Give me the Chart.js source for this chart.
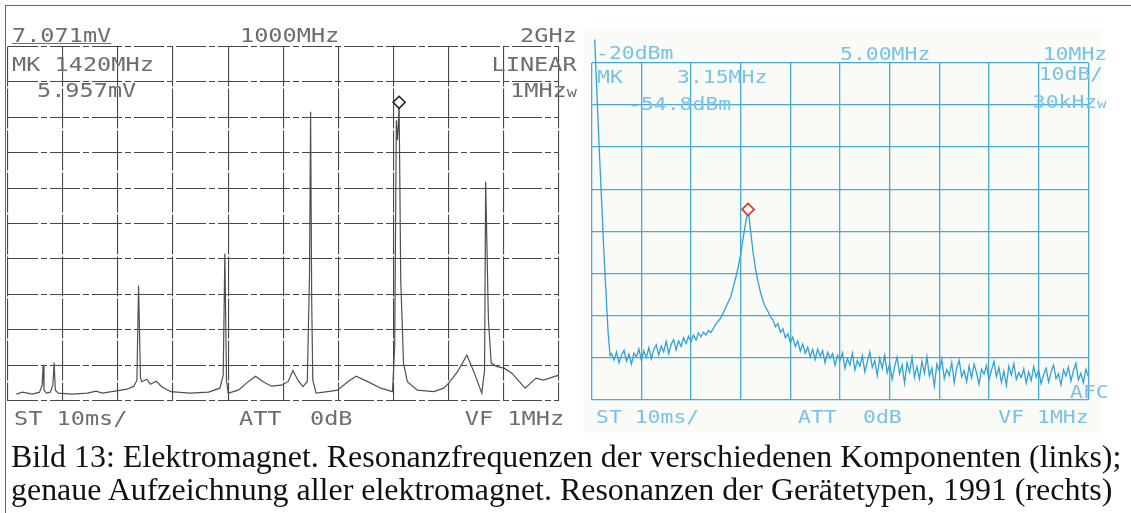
<!DOCTYPE html>
<html><head><meta charset="utf-8">
<script src="https://cdn.jsdelivr.net/npm/chart.js@4.4.0/dist/chart.umd.min.js"></script>
<style>
html,body{margin:0;padding:0;background:#fff;}
#page{position:relative;width:1131px;height:513px;overflow:hidden;background:#fff;}
canvas{position:absolute;}
.t{position:absolute;white-space:pre;font-family:'DejaVu Sans Mono',monospace;line-height:1;}
.cap{position:absolute;left:11px;white-space:pre;font-family:'Liberation Serif','Times New Roman',serif;line-height:1;color:#111;}
</style></head><body><div id="page">
<div style="position:absolute;left:583px;top:28px;width:518px;height:405px;background:#fafaf7"></div>
<canvas id="cL" width="600" height="440" style="left:0;top:0;width:600px;height:440px"></canvas>
<canvas id="cR" width="571" height="440" style="left:560px;top:0;width:571px;height:440px"></canvas>
<div style="position:absolute;left:5px;top:5px;width:1126px;height:0;border-top:1.5px solid #666"></div>
<div style="position:absolute;left:5px;top:5px;width:0;height:508px;border-left:1.5px solid #666"></div>
<div id="cap1" class="cap"></div>
<div id="cap2" class="cap"></div>
</div>
<script>
// ---------- DATA ----------
// Left analyser: frequency in MHz, level in mV (linear), span 0..2000 MHz, ref 7.071 mV
const leftXRange = [0, 2000];
const leftYRange = [0, 7.071];
const leftTrace = [
 [32,0.13],[54,0.17],[90,0.13],[116,0.17],[125,0.31],[129,0.71],[132,0.21],[141,0.15],[155,0.17],[164,0.31],
 [169,0.76],[173,0.21],[184,0.15],[235,0.13],[289,0.15],[321,0.19],[343,0.15],[390,0.19],[433,0.23],[458,0.29],
 [469,0.41],[475,2.30],[482,0.45],[487,0.38],[505,0.43],[518,0.33],[539,0.39],[559,0.28],[592,0.18],[661,0.15],
 [729,0.17],[770,0.25],[782,0.51],[788,2.94],[794,0.41],[800,0.15],[837,0.21],[873,0.38],[899,0.49],[927,0.38],
 [957,0.29],[993,0.31],[1017,0.38],[1035,0.60],[1053,0.41],[1071,0.28],[1087,0.38],[1095,2.5],[1099,5.77],[1103,2.0],
 [1107,0.41],[1119,0.15],[1161,0.18],[1197,0.21],[1234,0.38],[1264,0.49],[1306,0.38],[1354,0.25],[1396,0.18],[1404,1.08],
 [1410,5.6],[1414,5.2],[1417,5.5],[1420,5.957],[1426,2.41],[1436,0.75],[1450,0.38],[1486,0.21],[1546,0.18],[1582,0.25],
 [1600,0.35],[1632,0.58],[1666,0.91],[1693,0.55],[1720,0.15],[1730,0.61],[1734,4.37],[1744,1.61],[1754,0.75],[1775,0.68],
 [1801,0.65],[1829,0.55],[1877,0.25],[1917,0.45],[1944,0.41],[1999,0.51]
];
const leftMarker = [[1420, 5.957]];

// Right analyser: frequency in MHz, level in dBm, span 0..10 MHz, ref -20 dBm, 10 dB/div
const rightXRange = [0, 10];
const rightYRange = [-100, -20];
const rightTrace = [
 [0.06,-14.5],[0.15,-40],[0.25,-66],[0.33,-84],[0.37,-89.5],
 [0.40,-89.0],[0.45,-90.5],[0.50,-88.6],[0.55,-91.2],[0.60,-89.4],[0.65,-88.2],[0.70,-90.8],[0.75,-89.1],[0.80,-91.5],[0.85,-88.9],
 [0.90,-89.8],[0.95,-87.9],[1.00,-90.6],[1.05,-88.4],[1.10,-89.9],[1.15,-87.6],[1.20,-90.2],[1.25,-88.0],[1.30,-86.9],[1.35,-89.3],
 [1.40,-87.2],[1.45,-88.6],[1.50,-86.1],[1.55,-89.0],[1.60,-86.8],[1.65,-85.7],[1.70,-88.1],[1.75,-86.0],[1.80,-87.3],[1.85,-85.2],
 [1.90,-86.6],[1.95,-84.9],[2.00,-86.2],[2.05,-84.6],[2.10,-85.8],[2.15,-84.1],[2.20,-85.0],[2.25,-83.9],[2.30,-84.6],[2.35,-83.5],
 [2.40,-84.0],[2.50,-82.0],[2.60,-80.5],[2.70,-78.0],[2.80,-75.5],[2.90,-71.0],[2.95,-68.5],[3.00,-65.5],[3.05,-61.5],[3.10,-58.0],
 [3.15,-54.8],[3.20,-60.0],[3.25,-65.0],[3.30,-69.0],[3.35,-72.0],[3.40,-74.5],[3.45,-76.5],[3.50,-78.0],[3.55,-79.0],[3.60,-80.3],
 [3.65,-81.0],[3.70,-82.6],[3.75,-81.9],[3.80,-84.0],[3.85,-83.1],[3.90,-85.2],[3.95,-84.3],[4.00,-86.4],[4.05,-85.1],[4.10,-87.3],
 [4.15,-86.0],[4.20,-88.4],[4.25,-86.7],[4.30,-88.9],[4.35,-87.5],[4.40,-89.8],[4.45,-88.0],[4.50,-90.4],[4.55,-87.9],[4.60,-89.6],
 [4.65,-88.3],[4.70,-91.2],[4.75,-88.7],[4.80,-90.1],[4.85,-89.0],[4.90,-91.8],[4.95,-89.4],[5.00,-90.6],[5.05,-88.8],[5.10,-92.5],
 [5.15,-90.2],[5.20,-91.7],[5.25,-88.9],[5.30,-92.9],[5.35,-90.6],[5.40,-92.0],[5.45,-89.5],[5.50,-93.4],[5.55,-90.9],[5.60,-88.6],
 [5.65,-92.3],[5.70,-90.7],[5.75,-94.2],[5.80,-90.1],[5.85,-92.5],[5.90,-89.4],[5.95,-93.5],[6.00,-91.5],[6.05,-95.1],[6.10,-92.0],
 [6.15,-89.8],[6.20,-93.8],[6.25,-91.7],[6.30,-96.0],[6.35,-91.2],[6.40,-93.4],[6.45,-89.9],[6.50,-94.6],[6.55,-92.1],[6.60,-95.0],
 [6.65,-90.8],[6.70,-93.6],[6.75,-89.7],[6.80,-94.3],[6.85,-92.4],[6.90,-96.7],[6.95,-91.5],[7.00,-93.1],[7.05,-90.3],[7.10,-94.9],
 [7.15,-92.8],[7.20,-94.2],[7.25,-91.1],[7.30,-95.9],[7.35,-92.4],[7.40,-90.6],[7.45,-94.5],[7.50,-93.0],[7.55,-95.6],[7.60,-91.9],
 [7.65,-94.8],[7.70,-91.5],[7.75,-93.6],[7.80,-96.3],[7.85,-92.7],[7.90,-93.9],[7.95,-91.8],[8.00,-95.2],[8.05,-92.9],[8.10,-90.8],
 [8.15,-94.4],[8.20,-92.3],[8.25,-95.8],[8.30,-93.2],[8.35,-96.5],[8.40,-92.0],[8.45,-94.1],[8.50,-91.4],[8.55,-95.1],[8.60,-93.5],
 [8.65,-94.7],[8.70,-92.6],[8.75,-96.0],[8.80,-93.3],[8.85,-95.4],[8.90,-92.1],[8.95,-94.6],[9.00,-92.9],[9.05,-96.1],[9.10,-94.0],
 [9.15,-92.5],[9.20,-95.7],[9.25,-93.4],[9.30,-91.7],[9.35,-94.9],[9.40,-93.8],[9.45,-96.4],[9.50,-92.8],[9.55,-94.3],[9.60,-92.2],
 [9.65,-95.5],[9.70,-93.1],[9.75,-91.3],[9.80,-95.2],[9.85,-93.7],[9.90,-95.9],[9.95,-92.7],[10.00,-94.4]
];
const rightMarker = [[3.15, -54.8]];

// Screen annotations of each analyser (text, x, baseline, align)
const leftLabels = [
 ['7.071mV',12,42,'l'],['1000MHz',240,42,'l'],['2GHz',577,42,'r'],
 ['MK 1420MHz',12,71.5,'l'],['LINEAR',577,71.5,'r'],
 ['5.957mV',37,97,'l'],['1MHz|w',577,97,'r'],
 ['ST 10ms/',14,425,'l'],['ATT',239,425,'l'],['0dB',310,425,'l'],['VF 1MHz',564,425,'r']
];
const rightLabels = [
 ['-20dBm',596,59,'l'],['5.00MHz',840,60,'l'],['10MHz',1107,60,'r'],
 ['MK',597,83,'l'],['3.15MHz',677,83,'l'],['10dB/',1103,80,'r'],
 ['-54.8dBm',628,110,'l'],['30kHz|w',1107,108,'r'],
 ['ST 10ms/',596,423.5,'l'],['ATT',798,423.5,'l'],['0dB',863,423.5,'l'],['VF 1MHz',1089,423.5,'r'],['AFC',1070,398,'l']
];
const captionLines = [
 'Bild 13: Elektromagnet. Resonanzfrequenzen der verschiedenen Komponenten (links);',
 'genaue Aufzeichnung aller elektromagnet. Resonanzen der Gerätetypen, 1991 (rechts)'
];

// ---------- RENDER ----------
const page = document.getElementById('page');
function addLabels(list, fs, sx, color){
  list.forEach(([txt,x,base,al])=>{
    const d = document.createElement('div');
    d.className='t';
    d.style.fontSize = fs+'px';
    d.style.color = color;
    d.style.top = (base - 0.846*fs)+'px';
    if(txt.includes('|')){
      const [a,b] = txt.split('|');
      d.appendChild(document.createTextNode(a));
      const s=document.createElement('span'); s.style.fontSize='0.72em'; s.textContent=b; d.appendChild(s);
    } else d.textContent = txt;
    if(al==='l'){ d.style.left=x+'px'; d.style.transformOrigin='0 0'; }
    else { d.style.right=(1131-x)+'px'; d.style.transformOrigin='100% 0'; }
    d.style.transform='scaleX('+sx+')';
    if(txt==='7.071mV') d.style.textDecoration='underline';
    page.appendChild(d);
  });
}
addLabels(leftLabels, 19, 1.24, '#6e6e6e');
addLabels(rightLabels, 17, 1.26, '#78c2e8');

(function(){
  const c=document.createElement('canvas').getContext('2d');
  c.font='100px "Liberation Serif"';
  const w=c.measureText(captionLines[0]).width;
  const fs=100*1111/w;
  const bases=[468,501];
  ['cap1','cap2'].forEach((id,i)=>{
    const d=document.getElementById(id);
    d.textContent=captionLines[i];
    d.style.fontSize=fs+'px';
    d.style.top=(bases[i]-0.8375*fs)+'px';
  });
})();

const pts = a => a.map(p=>({x:p[0],y:p[1]}));
function scale(range, opts, isX){
  return Object.assign({
    type:'linear', min:range[0], max:range[1],
    afterFit: s=>{ if(isX) s.height=0; else s.width=0; },
  }, opts);
}

new Chart(document.getElementById('cL'), {
  type:'line',
  data:{datasets:[
    {data:pts(leftMarker), showLine:false, pointStyle:'rectRot', pointRadius:6, borderColor:'#222', backgroundColor:'#fff', pointBorderWidth:1.6},
    {data:pts(leftTrace), borderColor:'#505050', borderWidth:1.2, pointRadius:0, tension:0, fill:false}
  ]},
  options:{
    responsive:false, animation:false, events:[],
    layout:{padding:{left:5,top:46.5,right:41,bottom:39.3}},
    plugins:{legend:{display:false}, tooltip:{enabled:false}},
    scales:{
      x: scale(leftXRange, {ticks:{display:false, stepSize:200}, grid:{drawTicks:false, color:'#474747', lineWidth:1.1}, border:{display:false, dash:[40,2]}}, true),
      y: scale(leftYRange, {ticks:{display:false, count:11}, grid:{drawTicks:false, color:'#474747', lineWidth:1.1}, border:{display:false, dash:[30,3,6,3]}}, false)
    }
  }
});

new Chart(document.getElementById('cR'), {
  type:'line',
  data:{datasets:[
    {data:pts(rightMarker), showLine:false, pointStyle:'rectRot', pointRadius:6, borderColor:'#d2362c', backgroundColor:'rgba(255,255,255,0.9)', pointBorderWidth:1.6},
    {data:pts(rightTrace), borderColor:'#2fa2dc', borderWidth:1.3, pointRadius:0, tension:0, fill:false, clip:false}
  ]},
  options:{
    responsive:false, animation:false, events:[],
    layout:{padding:{left:31.7,top:62.7,right:42.7,bottom:40}},
    plugins:{legend:{display:false}, tooltip:{enabled:false}},
    scales:{
      x: scale(rightXRange, {ticks:{display:false, stepSize:1}, grid:{drawTicks:false, color:'#45abdd', lineWidth:1.3}, border:{display:false}}, true),
      y: scale(rightYRange, {ticks:{display:false, stepSize:10}, grid:{drawTicks:false, color:'#45abdd', lineWidth:1.3}, border:{display:false}}, false)
    }
  }
});
</script>
</body></html>
